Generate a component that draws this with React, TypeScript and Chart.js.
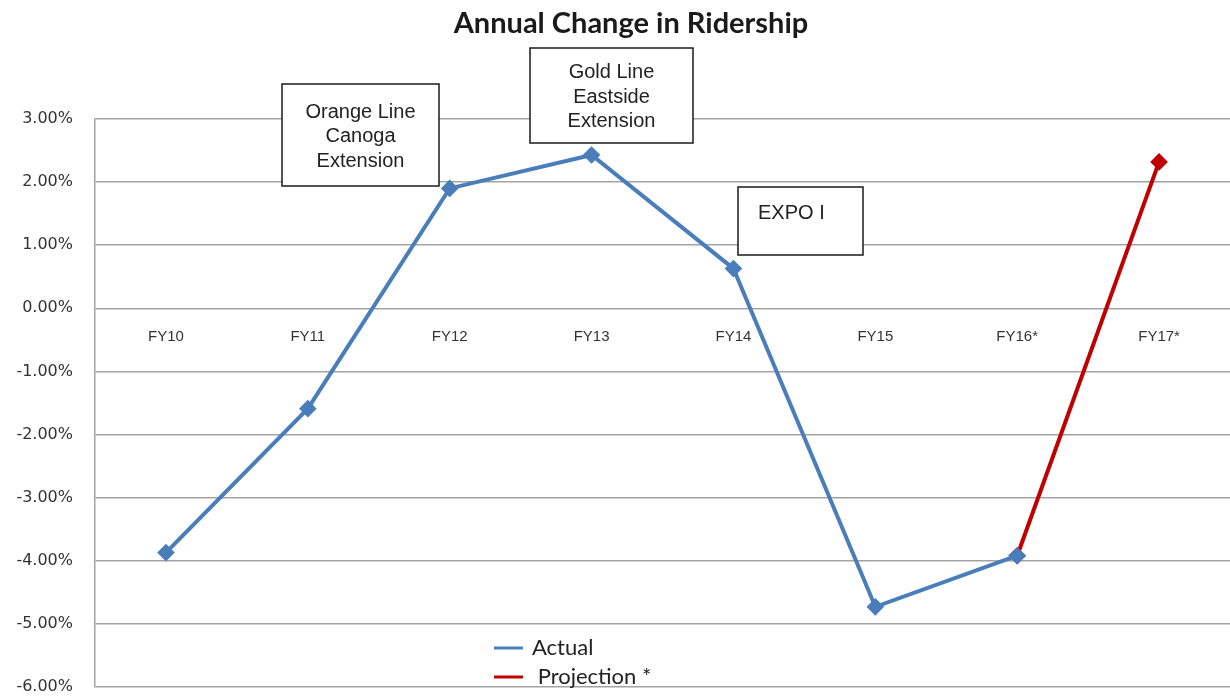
import React, { useEffect, useRef } from "react";
import { Chart, registerables } from "chart.js";

Chart.register(...registerables);

const categories = ["FY10", "FY11", "FY12", "FY13", "FY14", "FY15", "FY16*", "FY17*"];
const actualValues = [-3.87, -1.59, 1.9, 2.43, 0.63, -4.73, -3.92, null];
const projectionValues = [null, null, null, null, null, null, -3.92, 2.32];
const yTicks = [3, 2, 1, 0, -1, -2, -3, -4, -5, -6];
const titleText = "Annual Change in Ridership";
const legendLabels = ["Actual", " Projection *"];
const annotationTexts = [
  ["Orange Line", "Canoga", "Extension"],
  ["Gold Line", "Eastside", "Extension"],
  ["EXPO I"],
];

const BLUE = "#4a7ebb";
const RED = "#c00000";
const GRID = "#a3a3a3";

const annotationBoxes = [
  { x: 282, y: 84, w: 157, h: 102, align: "center" },
  { x: 530, y: 48, w: 163, h: 95, align: "center" },
  { x: 738, y: 187, w: 125, h: 68, align: "left" },
];

const overlayPlugin = {
  id: "overlay",
  afterDatasetsDraw(chart: any) {
    const ctx = chart.ctx;
    const xs = chart.scales.x;
    const ys = chart.scales.y;
    ctx.save();

    // category labels along the zero line
    ctx.fillStyle = "#333333";
    ctx.font = "15px 'Liberation Sans', Arial, sans-serif";
    ctx.textAlign = "center";
    ctx.textBaseline = "middle";
    const zeroY = ys.getPixelForValue(0);
    categories.forEach((c, i) => {
      ctx.fillText(c, xs.getPixelForValue(i), zeroY + 29);
    });

    // title
    ctx.fillStyle = "#1a1a1a";
    ctx.font = "bold 29px Lato, 'Liberation Sans', sans-serif";
    ctx.fillText(titleText, 631, 24);

    // annotation boxes
    annotationTexts.forEach((lines, i) => {
      const b = annotationBoxes[i];
      ctx.fillStyle = "#ffffff";
      ctx.fillRect(b.x, b.y, b.w, b.h);
      ctx.strokeStyle = "#1a1a1a";
      ctx.lineWidth = 1.5;
      ctx.strokeRect(b.x, b.y, b.w, b.h);
      ctx.fillStyle = "#222222";
      ctx.font = "20px 'Liberation Sans', Arial, sans-serif";
      ctx.textBaseline = "alphabetic";
      if (b.align === "center") {
        ctx.textAlign = "center";
        const lh = 24.5;
        const total = lh * (lines.length - 1);
        const cy = b.y + b.h / 2;
        lines.forEach((t, j) => {
          ctx.fillText(t, b.x + b.w / 2, cy - total / 2 + j * lh + 7);
        });
      } else {
        ctx.textAlign = "left";
        ctx.fillText(lines[0], b.x + 20, b.y + 32);
      }
    });

    // legend
    const colors = [BLUE, RED];
    const ly = [648, 677];
    ctx.font = "22px Lato, 'Liberation Sans', sans-serif";
    ctx.textAlign = "left";
    ctx.textBaseline = "middle";
    legendLabels.forEach((label, i) => {
      ctx.strokeStyle = colors[i];
      ctx.lineWidth = 3;
      ctx.beginPath();
      ctx.moveTo(494, ly[i]);
      ctx.lineTo(523, ly[i]);
      ctx.stroke();
      ctx.fillStyle = "#222222";
      ctx.fillText(label, 532, ly[i]);
    });
    ctx.restore();
  },
};

export default function App() {
  const canvasRef = useRef<HTMLCanvasElement | null>(null);

  useEffect(() => {
    if (!canvasRef.current) return;
    const chart = new Chart(canvasRef.current, {
      type: "line",
      data: {
        labels: categories,
        datasets: [
          {
            label: "Actual",
            data: actualValues,
            borderColor: BLUE,
            backgroundColor: BLUE,
            borderWidth: 4,
            pointStyle: "rectRot",
            pointRadius: 6,
            pointBackgroundColor: BLUE,
            pointBorderColor: BLUE,
            tension: 0,
            spanGaps: false,
          },
          {
            label: "Projection *",
            data: projectionValues,
            borderColor: RED,
            backgroundColor: RED,
            borderWidth: 4,
            pointStyle: "rectRot",
            pointRadius: 6,
            pointBackgroundColor: RED,
            pointBorderColor: RED,
            tension: 0,
          },
        ],
      },
      options: {
        responsive: false,
        animation: false,
        layout: { padding: { left: 0, top: 119, right: 3, bottom: 11 } },
        plugins: {
          legend: { display: false },
          title: { display: false },
          tooltip: { enabled: false },
        },
        scales: {
          x: {
            type: "category",
            display: false,
            offset: true,
            grid: { display: false },
          },
          y: {
            min: -6,
            max: 3,
            afterFit: (scale: any) => {
              scale.width = 95;
              scale.paddingTop = 0;
              scale.paddingBottom = 0;
            },
            afterBuildTicks: (scale: any) => {
              scale.ticks = yTicks.map((v) => ({ value: v }));
            },
            grid: { color: GRID, lineWidth: 1.5, drawTicks: false },
            border: { display: true, color: GRID, width: 1.5 },
            ticks: {
              padding: 22,
              color: "#333333",
              font: { family: "'DejaVu Sans', Verdana, sans-serif", size: 16 },
              callback: (v: any) => Number(v).toFixed(2) + "%",
            },
          },
        },
      },
      plugins: [overlayPlugin],
    });
    return () => chart.destroy();
  }, []);

  return (
    <div
      style={{
        position: "fixed",
        left: 0,
        top: 0,
        width: 1230,
        height: 698,
        overflow: "hidden",
        background: "#ffffff",
      }}
    >
      <canvas ref={canvasRef} width={1240} height={698} style={{ display: "block" }} />
    </div>
  );
}
